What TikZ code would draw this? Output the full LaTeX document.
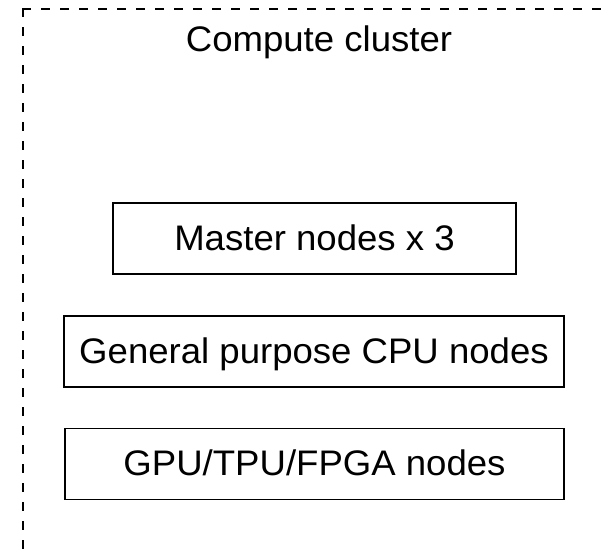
\documentclass[tikz,border=0pt]{standalone}
\usepackage{fontspec}
\setmainfont[FakeStretch=1.03]{Liberation Sans}
\begin{document}
\begin{tikzpicture}[x=1pt, y=-1pt,
  labelfont/.style={font=\fontsize{35.5}{42}\selectfont},
  box/.style={draw=black, line width=1.5pt, minimum height=71pt,
    inner sep=0pt, text height=25.4pt, text depth=2pt, labelfont},
  frame/.style={draw=black, line width=2pt, line cap=rect,
    dash pattern=on 7pt off 12pt}]
\useasboundingbox (0,0) rectangle (604,548);
\clip (0,0) rectangle (604,548);

% dashed cluster boundary (continues past the right and bottom edges)
\coordinate (corner) at (22.7,9);
\coordinate (frameright) at (640,9);
\coordinate (framebottom) at (22.7,580);
\draw[frame] (corner) -- (frameright);
\draw[frame] (corner) -- (framebottom);

\node[labelfont, anchor=base, inner sep=0pt] (title) at (319,51.7) {Compute cluster};

\node[box, minimum width=403pt] (master) at (314.5,238.5) {Master nodes x 3};
\node[box, minimum width=500pt] (cpu) at (314,351.5) {General purpose CPU nodes};
\node[box, minimum width=499pt] (accel) at (314.5,464) {GPU/TPU/FPGA nodes};
\end{tikzpicture}
\end{document}
